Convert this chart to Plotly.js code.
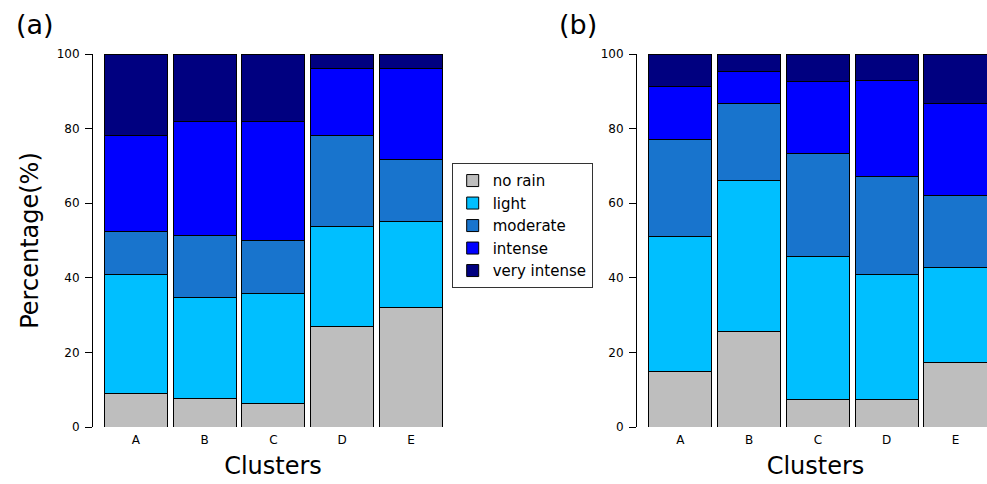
<!DOCTYPE html>
<html>
<head>
<meta charset="utf-8">
<script src="https://cdn.plot.ly/plotly-3.0.1.min.js"></script>
<style>html,body{margin:0;padding:0;background:#fff}#chart{width:987px;height:484px}</style>
</head>
<body>
<div id="chart"></div>
<script>
var clusters = ['A', 'B', 'C', 'D', 'E'];
var categoryNames = ['no rain', 'light', 'moderate', 'intense', 'very intense'];
var categoryColors = ['#BEBEBE', '#00BFFF', '#1874CD', '#0000FF', '#000080'];

// panel (a): percentage of each class per cluster
var aNoRain      = [8.9, 7.6, 6.4, 26.9, 32.0];
var aLight       = [32.0, 27.0, 29.4, 26.9, 23.1];
var aModerate    = [11.6, 16.7, 14.2, 24.3, 16.6];
var aIntense     = [25.6, 30.7, 32.0, 18.0, 24.4];
var aVeryIntense = [21.9, 18.0, 18.0, 3.9, 3.9];

// panel (b)
var bNoRain      = [15.0, 25.5, 7.3, 7.3, 17.3];
var bLight       = [36.0, 40.6, 38.3, 33.7, 25.5];
var bModerate    = [26.1, 20.7, 27.8, 26.1, 19.2];
var bIntense     = [14.1, 8.5, 19.3, 25.9, 24.6];
var bVeryIntense = [8.8, 4.7, 7.3, 7.0, 13.4];

var yTicks = [0, 20, 40, 60, 80, 100];

var aSeries = [aNoRain, aLight, aModerate, aIntense, aVeryIntense];
var bSeries = [bNoRain, bLight, bModerate, bIntense, bVeryIntense];

var traces = [];
aSeries.forEach(function (vals, i) {
  traces.push({
    type: 'bar', x: clusters, y: vals, name: categoryNames[i],
    xaxis: 'x', yaxis: 'y', legendgroup: categoryNames[i],
    marker: {color: categoryColors[i], line: {color: '#000', width: 1}},
    hoverinfo: 'x+y+name'
  });
});
bSeries.forEach(function (vals, i) {
  traces.push({
    type: 'bar', x: clusters, y: vals, name: categoryNames[i],
    xaxis: 'x2', yaxis: 'y2', legendgroup: categoryNames[i], showlegend: false,
    marker: {color: categoryColors[i], line: {color: '#000', width: 1}},
    hoverinfo: 'x+y+name'
  });
});

var W = 987, H = 484;
var font = 'DejaVu Sans, Arial, sans-serif';
var yDom = [(H - 427) / H, (H - 54) / H];

function xAxis(dom, rng) {
  return {
    domain: dom, range: rng, type: 'category',
    showline: false, showgrid: false, zeroline: false, ticks: '',
    tickfont: {family: font, size: 12, color: '#000'},
    ticklabelstandoff: 4,
    title: {text: 'Clusters', font: {family: font, size: 24, color: '#000'}, standoff: 11},
    fixedrange: true
  };
}
function yAxis(pos, title) {
  return {
    domain: yDom, range: [0, 100], anchor: 'free', position: pos,
    showline: true, linecolor: '#000', linewidth: 1,
    showgrid: false, zeroline: false,
    ticks: 'outside', ticklen: 7, tickwidth: 1, tickcolor: '#000',
    tickvals: yTicks, ticktext: yTicks.map(String),
    tickfont: {family: font, size: 12, color: '#000'},
    ticklabelstandoff: 3,
    title: {text: title, font: {family: font, size: 24, color: '#000'}, standoff: 10},
    fixedrange: true
  };
}

var layout = {
  width: W, height: H,
  margin: {l: 0, r: 0, t: 0, b: 0},
  paper_bgcolor: '#fff', plot_bgcolor: 'rgba(0,0,0,0)',
  barmode: 'stack', bargap: 0.084,
  showlegend: true,
  legend: {
    x: 451.7 / W, y: 1 - 163.3 / H, xanchor: 'left', yanchor: 'top',
    traceorder: 'normal',
    bordercolor: '#333', borderwidth: 1, bgcolor: '#fff',
    font: {family: font, size: 15, color: '#000'},
    tracegroupgap: 0
  },
  xaxis: xAxis([100 / W, 446 / W], [-0.52, 4.509]),
  xaxis2: xAxis([644 / W, 1], [-0.528, 4.458]),
  yaxis: yAxis(92 / W, 'Percentage(%)'),
  yaxis2: yAxis(636 / W, ''),
  annotations: [
    {text: '(a)', x: 14 / W, y: 1 - 25 / H, xref: 'paper', yref: 'paper', xanchor: 'left', yanchor: 'middle', showarrow: false, font: {family: font, size: 27, color: '#000'}},
    {text: '(b)', x: 557 / W, y: 1 - 25 / H, xref: 'paper', yref: 'paper', xanchor: 'left', yanchor: 'middle', showarrow: false, font: {family: font, size: 27, color: '#000'}}
  ]
};
layout.xaxis.anchor = 'y';
layout.xaxis2.anchor = 'y2';

Plotly.newPlot('chart', traces, layout, {displayModeBar: false, staticPlot: true});
</script>
</body>
</html>
